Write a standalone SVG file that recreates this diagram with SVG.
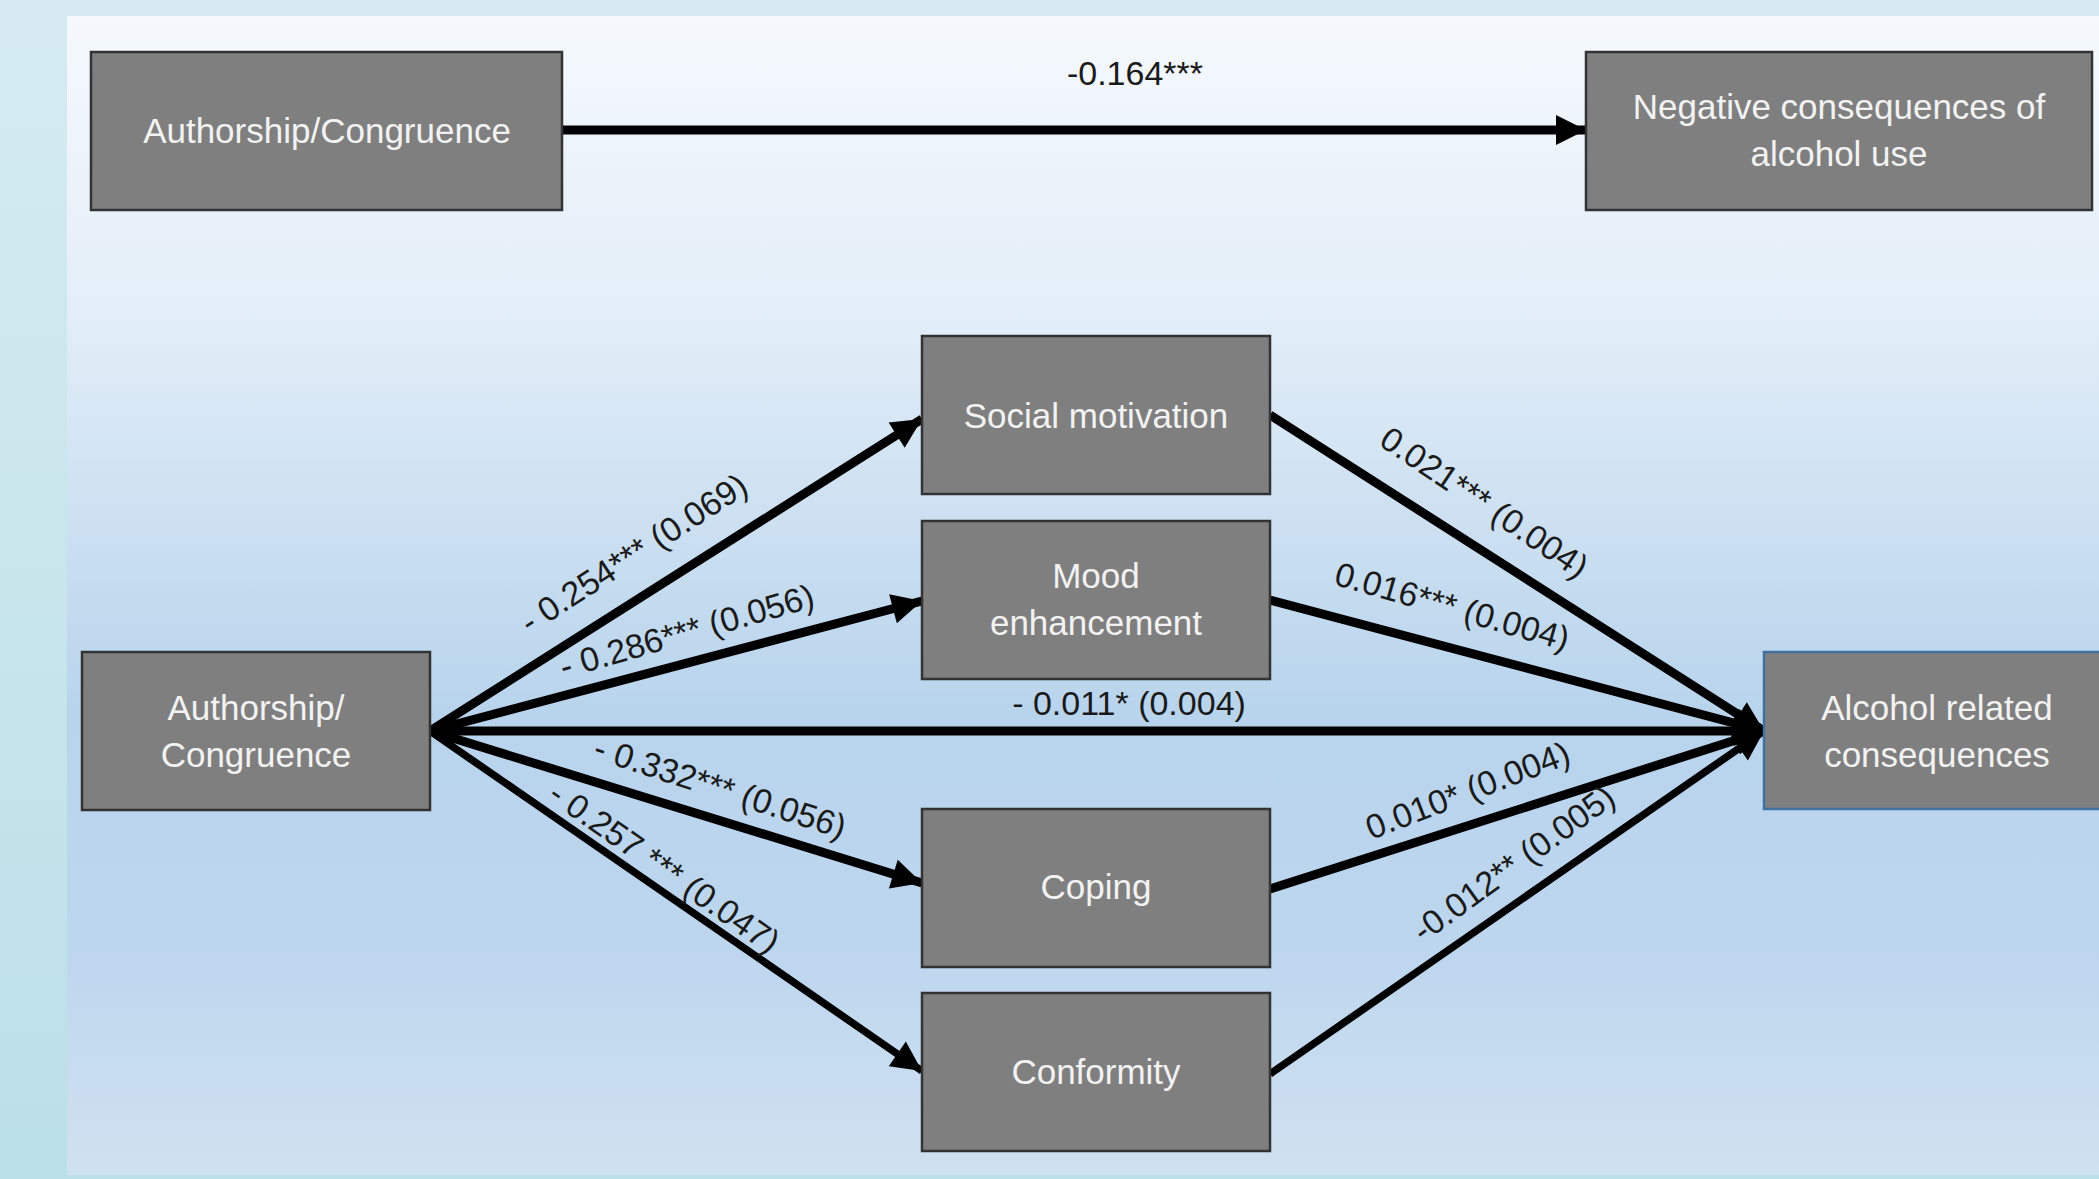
<svg xmlns="http://www.w3.org/2000/svg" width="2099" height="1179" viewBox="0 0 2099 1179">
  <defs>
    <linearGradient id="outer" x1="0" y1="0" x2="0" y2="1">
      <stop offset="0" stop-color="#d5ebf1"/>
      <stop offset="1" stop-color="#bbdfe8"/>
    </linearGradient>
    <linearGradient id="panel" x1="0" y1="0" x2="0" y2="1">
      <stop offset="0" stop-color="#f5f9fd"/>
      <stop offset="0.25" stop-color="#e3eef8"/>
      <stop offset="0.6" stop-color="#b8d4ec"/>
      <stop offset="0.8" stop-color="#bcd6ee"/>
      <stop offset="1" stop-color="#d0e1f0"/>
    </linearGradient>
    <marker id="arrow" viewBox="0 0 10 10" refX="10" refY="5" markerUnits="userSpaceOnUse" markerWidth="34" markerHeight="30" orient="auto">
      <path d="M0,0 L10,5 L0,10 Z" fill="#000"/>
    </marker>
  </defs>
  <style>
    .box { fill: #7f7f7f; stroke: #333333; stroke-width: 2.5; }
    .box.blue { stroke: #41719c; }
    .bt { font-family: "Liberation Sans", Arial, sans-serif; font-size: 35px; fill: #f2f2f2; text-anchor: middle; }
    .lbl { font-family: "Liberation Sans", Arial, sans-serif; font-size: 34px; fill: #1a1a1a; text-anchor: middle; }
    .ln { stroke: #000; stroke-width: 9; fill: none; stroke-linecap: butt; }
    .thin { stroke-width: 7.5; }
  </style>

  <rect x="0" y="0" width="2099" height="1179" fill="url(#outer)"/>
  <rect x="67" y="16" width="2040" height="1159" fill="url(#panel)"/>

  <g id="connectors">
    <line class="ln" x1="562" y1="130" x2="1586" y2="130" marker-end="url(#arrow)"/>
    <line class="ln" x1="430" y1="731" x2="922" y2="419" marker-end="url(#arrow)"/>
    <line class="ln" x1="430" y1="731" x2="922" y2="601" marker-end="url(#arrow)"/>
    <line class="ln" x1="430" y1="731" x2="1764" y2="731" marker-end="url(#arrow)"/>
    <line class="ln" x1="430" y1="731" x2="922" y2="883" marker-end="url(#arrow)"/>
    <line class="ln thin" x1="430" y1="731" x2="922" y2="1071" marker-end="url(#arrow)"/>
    <line class="ln" x1="1270" y1="415" x2="1764" y2="731" marker-end="url(#arrow)"/>
    <line class="ln" x1="1270" y1="600" x2="1764" y2="731" marker-end="url(#arrow)"/>
    <line class="ln" x1="1270" y1="889" x2="1764" y2="731" marker-end="url(#arrow)"/>
    <line class="ln thin" x1="1270" y1="1074" x2="1764" y2="731" marker-end="url(#arrow)"/>

    <text class="lbl" x="1135" y="85">-0.164***</text>
    <text class="lbl" transform="translate(634,554) rotate(-33)" y="11">- 0.254*** (0.069)</text>
    <text class="lbl" transform="translate(687,632) rotate(-16)" y="11">- 0.286*** (0.056)</text>
    <text class="lbl" x="1129" y="715">- 0.011* (0.004)</text>
    <text class="lbl" transform="translate(720,788) rotate(18)" y="11">- 0.332*** (0.056)</text>
    <text class="lbl" transform="translate(664,868) rotate(35)" y="11">- 0.257 *** (0.047)</text>
    <text class="lbl" transform="translate(1484,503) rotate(34)" y="11">0.021*** (0.004)</text>
    <text class="lbl" transform="translate(1452,607) rotate(16)" y="11">0.016*** (0.004)</text>
    <text class="lbl" transform="translate(1468,791) rotate(-21)" y="11">0.010* (0.004)</text>
    <text class="lbl" transform="translate(1514,864) rotate(-36)" y="11">-0.012** (0.005)</text>
  </g>

  <g id="node-authorship-top">
    <rect class="box" x="91" y="52" width="471" height="158"/>
    <text class="bt" x="327" y="143">Authorship/Congruence</text>
  </g>
  <g id="node-negative-consequences">
    <rect class="box" x="1586" y="52" width="506" height="158"/>
    <text class="bt" x="1839" y="119">Negative consequences of</text>
    <text class="bt" x="1839" y="166">alcohol use</text>
  </g>
  <g id="node-authorship">
    <rect class="box" x="82" y="652" width="348" height="158"/>
    <text class="bt" x="256" y="720">Authorship/</text>
    <text class="bt" x="256" y="767">Congruence</text>
  </g>
  <g id="node-social">
    <rect class="box" x="922" y="336" width="348" height="158"/>
    <text class="bt" x="1096" y="428">Social motivation</text>
  </g>
  <g id="node-mood">
    <rect class="box" x="922" y="521" width="348" height="158"/>
    <text class="bt" x="1096" y="588">Mood</text>
    <text class="bt" x="1096" y="635">enhancement</text>
  </g>
  <g id="node-coping">
    <rect class="box" x="922" y="809" width="348" height="158"/>
    <text class="bt" x="1096" y="899">Coping</text>
  </g>
  <g id="node-conformity">
    <rect class="box" x="922" y="993" width="348" height="158"/>
    <text class="bt" x="1096" y="1084">Conformity</text>
  </g>
  <g id="node-alcohol">
    <rect class="box blue" x="1764" y="652" width="350" height="157"/>
    <text class="bt" x="1937" y="720">Alcohol related</text>
    <text class="bt" x="1937" y="767">consequences</text>
  </g>
</svg>
